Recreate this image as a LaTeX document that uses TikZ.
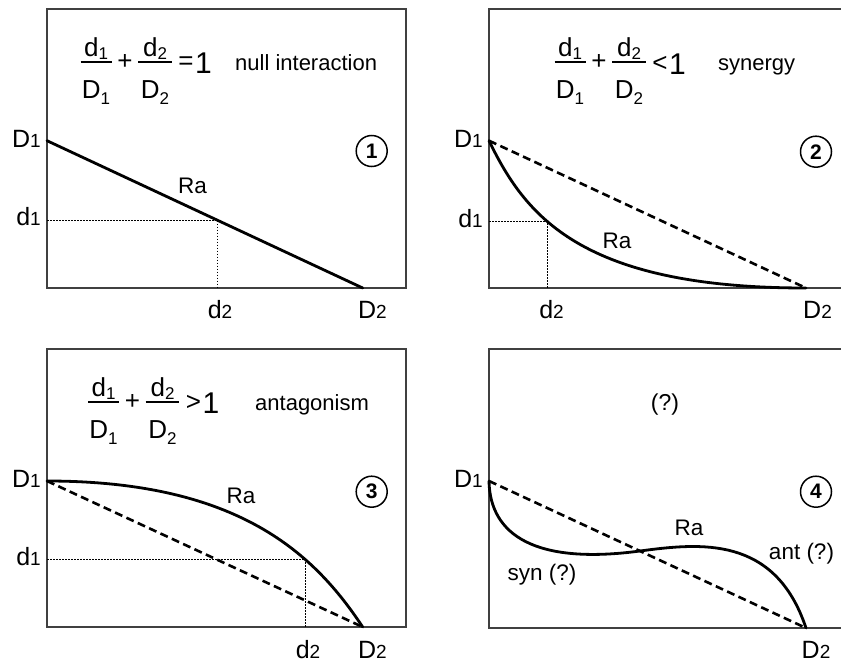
\documentclass[tikz,border=0pt]{standalone}
\usepackage{fontspec}
\setmainfont{Liberation Sans}
\newcommand\ax[2]{#1{\fontsize{19}{19}\selectfont #2}}
\newcommand\fsub[3]{#1\raisebox{-#3}{\fontsize{17}{17}\selectfont #2}}
\tikzset{
  box/.style={draw=black!75, line width=1.8pt},
  curve/.style={line width=2.8pt, line cap=round},
  dashline/.style={line width=2.6pt, dash pattern=on 8pt off 4.5pt},
  dotline/.style={line width=1.1pt, dash pattern=on 1.6pt off 1.4pt},
  axlab/.style={inner sep=0pt, font=\fontsize{25}{28}\selectfont},
  txt/.style={inner sep=0pt, anchor=base west, font=\fontsize{22}{26}\selectfont},
  ctxt/.style={inner sep=0pt, anchor=base, font=\fontsize{22.5}{26}\selectfont},
  ftxt/.style={inner sep=0pt, font=\fontsize{26}{30}\selectfont},
  onetxt/.style={inner sep=0pt, font=\fontsize{30}{34}\selectfont},
  fracbar/.style={line width=1.8pt},
  circnum/.style={circle, draw, line width=1.5pt, minimum size=31pt, inner sep=0pt, font=\bfseries\fontsize{21}{24}\selectfont}
}
\newcommand\fracgroup[4]{%
  \begin{scope}[shift={(#2,#3)}]
    \draw[fracbar] (80.7,61.7) coordinate (#1a) -- (111.7,61.7) coordinate (#1b);
    \node[ftxt, anchor=base] (#1n1) at (96,56) {\fsub{d}{1}{3pt}};
    \node[ftxt, anchor=base] (#1d1) at (96,98) {\fsub{D}{1}{6pt}};
    \node[ftxt] (#1p) at (125,61.7) {+};
    \draw[fracbar] (138,61.7) coordinate (#1c) -- (171.7,61.7) coordinate (#1d);
    \node[ftxt, anchor=base] (#1n2) at (155,56) {\fsub{d}{2}{3pt}};
    \node[ftxt, anchor=base] (#1d2) at (155,98) {\fsub{D}{2}{6pt}};
    \node[ftxt] (#1r) at (186,63.3) {#4};
    \node[onetxt] (#1one) at (203.5,63.4) {1};
  \end{scope}}
\begin{document}
\begin{tikzpicture}[x=1pt, y=-1pt]
\useasboundingbox (0,0) rectangle (841,664);
\fill[white] (0,0) rectangle (841,664);

% ---------- panel 1 ----------
\draw[box] (47,9) rectangle (406,288);
\coordinate (p1o) at (47,288);
\coordinate (p1D1) at (47,140.7);
\coordinate (p1D2) at (362.7,288);
\path (p1D1) -- (p1D2) coordinate[pos=0.5407] (p1q);
\draw[dotline] (p1q -| p1o) -- (p1q) -- (p1q |- p1o);
\draw[curve] (p1D1) -- (p1D2);
\node[axlab, anchor=base east] (p1lD1) at (41,147) {\ax{D}{1}};
\node[axlab, anchor=base east] (p1ld1) at (41,225) {\ax{d}{1}};
\node[axlab, anchor=base] (p1ld2) at (220,318) {\ax{d}{2}};
\node[axlab, anchor=base] (p1lD2) at (372.5,318) {\ax{D}{2}};
\node[ctxt] (p1Ra) at (192.5,193) {Ra};
\node[circnum] (p1c) at (371.7,151) {1};
\fracgroup{fa}{0}{0}{=}
\node[txt] (p1t) at (235,70) {null interaction};

% ---------- panel 2 ----------
\draw[box] (841,9) -- (489,9) -- (489,288) -- (841,288);
\coordinate (p2o) at (489,288);
\coordinate (p2D1) at (489,140.7);
\coordinate (p2D2) at (806,288);
\path (p2D1) .. controls (525,215) and (580,288) .. (p2D2) coordinate[pos=0.385] (p2q);
\draw[dotline] (p2q -| p2o) -- (p2q) -- (p2q |- p2o);
\draw[dashline] (p2D1) -- (p2D2);
\draw[curve] (p2D1) .. controls (525,215) and (580,288) .. (p2D2);
\node[axlab, anchor=base east] (p2lD1) at (483,147) {\ax{D}{1}};
\node[axlab, anchor=base east] (p2ld1) at (483,227) {\ax{d}{1}};
\node[axlab, anchor=base] (p2ld2) at (551.5,318) {\ax{d}{2}};
\node[axlab, anchor=base] (p2lD2) at (817.5,318) {\ax{D}{2}};
\node[ctxt] (p2Ra) at (617,248) {Ra};
\node[circnum] (p2c) at (816,151.7) {2};
\fracgroup{fb}{474}{0.5}{<}
\node[txt] (p2t) at (718,70) {synergy};

% ---------- panel 3 ----------
\draw[box] (47,349) rectangle (406,627);
\coordinate (p3o) at (47,627);
\coordinate (p3D1) at (47,481);
\coordinate (p3D2) at (362.7,627);
\path (p3D1) .. controls (240,481) and (315,555) .. (p3D2) coordinate[pos=0.68] (p3q);
\draw[dotline] (p3q -| p3o) -- (p3q) -- (p3q |- p3o);
\draw[dashline] (p3D1) -- (p3D2);
\draw[curve] (p3D1) .. controls (240,481) and (315,555) .. (p3D2);
\node[axlab, anchor=base east] (p3lD1) at (41,487) {\ax{D}{1}};
\node[axlab, anchor=base east] (p3ld1) at (41,565) {\ax{d}{1}};
\node[axlab, anchor=base] (p3ld2) at (308,658) {\ax{d}{2}};
\node[axlab, anchor=base] (p3lD2) at (372.5,658) {\ax{D}{2}};
\node[ctxt] (p3Ra) at (241,503) {Ra};
\node[circnum] (p3c) at (371.7,491.7) {3};
\fracgroup{fc}{7.5}{340}{>}
\node[txt] (p3t) at (255,410) {antagonism};

% ---------- panel 4 ----------
\draw[box] (841,349) -- (489,349) -- (489,628) -- (841,628);
\coordinate (p4D1) at (489,481);
\coordinate (p4m) at (640,551);
\coordinate (p4D2) at (806,628);
\draw[dashline] (p4D1) -- (p4D2);
\draw[curve] (p4D1) .. controls (490,535) and (535,565) .. (p4m)
  .. controls (700,543) and (775,535) .. (p4D2);
\node[axlab, anchor=base east] (p4lD1) at (483,487) {\ax{D}{1}};
\node[axlab, anchor=base] (p4lD2) at (816,658) {\ax{D}{2}};
\node[ctxt] (p4Ra) at (689,535) {Ra};
\node[circnum] (p4c) at (816,491.7) {4};
\node[ctxt, font=\fontsize{23}{26}\selectfont] (p4q) at (665,410) {(?)};
\node[ctxt] (p4syn) at (542,580) {syn (?)};
\node[ctxt] (p4ant) at (801.5,559) {ant (?)};
\end{tikzpicture}
\end{document}
